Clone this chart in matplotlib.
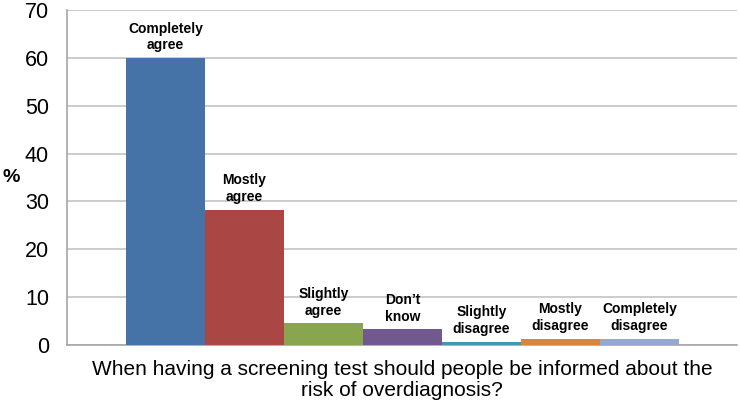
import matplotlib
matplotlib.use("Agg")
import matplotlib.pyplot as plt

plt.rcParams['font.family'] = ['Liberation Sans', 'DejaVu Sans']

categories = ["Completely\nagree", "Mostly\nagree", "Slightly\nagree", "Don\u2019t\nknow",
              "Slightly\ndisagree", "Mostly\ndisagree", "Completely\ndisagree"]
values = [60.0, 28.3, 4.5, 3.3, 0.7, 1.3, 1.3]
colors = ["#4572A7", "#AA4643", "#89A54E", "#71588F", "#4198AF", "#DB843D", "#93A9CF"]
yticks = [0, 10, 20, 30, 40, 50, 60, 70]
xlabel = "When having a screening test should people be informed about the\nrisk of overdiagnosis?"

fig = plt.figure(figsize=(7.4, 4.09), dpi=100)
ax = fig.add_axes([0.0905, 0.1565, 0.9055, 0.8191])

x = list(range(len(values)))
bars = ax.bar(x, values, width=1.0, color=colors, zorder=3)
for xi, v, lab in zip(x, values, categories):
    ax.annotate(lab, (xi, v), xytext=(0, 4), textcoords="offset points",
                ha="center", va="bottom", fontsize=10, fontweight="bold",
                linespacing=1.25, zorder=4)

ax.set_xlim(-1.247, 7.234)
ax.set_ylim(0, 70)
ax.set_yticks(yticks)
ax.set_xticks([])
ax.tick_params(axis='y', length=0, labelsize=15.5, pad=13)
ax.yaxis.grid(True, color="#c4c4c4", linewidth=1.2, zorder=0)
for s in ["top", "right"]:
    ax.spines[s].set_visible(False)
for s in ["left", "bottom"]:
    ax.spines[s].set_color("#a6a6a6")
    ax.spines[s].set_linewidth(1.2)

ax.set_xlabel(xlabel, fontsize=15, labelpad=11, linespacing=1.1)
fig.text(0.0145, 0.565, "%", fontsize=14, fontweight="bold", ha="center", va="center")

fig.savefig("out.png", dpi=100)
